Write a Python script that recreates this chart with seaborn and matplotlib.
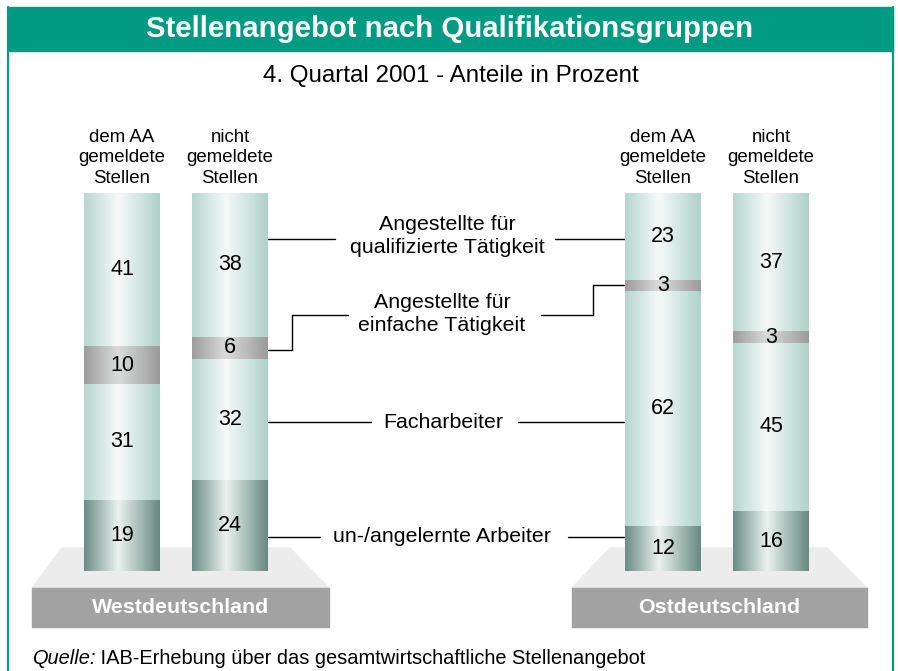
import matplotlib
matplotlib.use("Agg")
import matplotlib.pyplot as plt
import numpy as np
import pandas as pd
import seaborn as sns
from matplotlib.colors import LinearSegmentedColormap
from matplotlib.patches import Polygon, Rectangle

# data (percent shares, bottom to top of each column)
regions = ['Westdeutschland', 'Ostdeutschland']
col_headers = ['dem AA\ngemeldete\nStellen', 'nicht\ngemeldete\nStellen',
               'dem AA\ngemeldete\nStellen', 'nicht\ngemeldete\nStellen']
groups = ['un-/angelernte Arbeiter', 'Facharbeiter',
          'Angestellte für\neinfache Tätigkeit',
          'Angestellte für\nqualifizierte Tätigkeit']
unskilled = [19, 24, 12, 16]
skilled = [31, 32, 62, 45]
simple = [10, 6, 3, 3]
qualified = [41, 38, 23, 37]

sns.set_theme(style='white')
plt.rcParams['font.family'] = ['Liberation Sans', 'DejaVu Sans']
plt.rcParams['text.color'] = 'black'

W, H = 898, 671
fig = plt.figure(figsize=(W / 100, H / 100), dpi=100)

# background axes in pixel units
ax = fig.add_axes([0, 0, 1, 1])
ax.set_xlim(0, W)
ax.set_ylim(H, 0)
ax.set_axis_off()

green = '#009b82'
ax.add_patch(Rectangle((8, 7), 885, 44, color=green, zorder=1))
ax.plot([8, 8], [7, 671], color=green, lw=1.6, zorder=2)
ax.plot([893, 893], [7, 671], color=green, lw=1.6, zorder=2)
ax.text(450, 29, 'Stellenangebot nach Qualifikationsgruppen', color='white',
        fontsize=21.2, fontweight='bold', ha='center', va='center', zorder=3)
ax.text(451, 76, '4. Quartal 2001 - Anteile in Prozent', fontsize=17.4,
        ha='center', va='center')

# platforms
plat_top = [[(62, 548), (290, 548), (329, 588), (32, 588)],
            [(610, 548), (827, 548), (867, 588), (572, 588)]]
plat_box = [(32, 329), (572, 867)]
for poly, (x0, x1), name in zip(plat_top, plat_box, regions):
    ax.add_patch(Polygon(poly, closed=True, color='#ececec', zorder=1))
    ax.add_patch(Rectangle((x0, 588), x1 - x0, 39, color='#a2a2a2', zorder=1))
    ax.text((x0 + x1) / 2, 607.5, name, color='white', fontsize=15.4,
            fontweight='bold', ha='center', va='center', zorder=3)

# column headers
centers = [122, 230, 663, 771]
for cx, head in zip(centers, col_headers):
    ax.text(cx, 158, head, fontsize=13.4, ha='center', va='center',
            linespacing=1.27)

# leader lines and group labels
lc = dict(color='black', lw=1.0, zorder=3)
ax.plot([268, 335], [239, 239], **lc)
ax.plot([555, 625], [239, 239], **lc)
ax.text(447, 236, groups[3], fontsize=15.4, ha='center', va='center', linespacing=1.3)
ax.plot([268, 292, 292, 348], [350, 350, 315, 315], **lc)
ax.plot([541, 593, 593, 625], [315, 315, 285, 285], **lc)
ax.text(442, 314, groups[2], fontsize=15.4, ha='center', va='center', linespacing=1.3)
ax.plot([268, 371], [422, 422], **lc)
ax.plot([518, 625], [422, 422], **lc)
ax.text(443, 422, groups[1], fontsize=15.4, ha='center', va='center')
ax.plot([268, 320], [537, 537], **lc)
ax.plot([568, 625], [537, 537], **lc)
ax.text(442, 537, groups[0], fontsize=15.4, ha='center', va='center')

q = ax.text(32, 664, 'Quelle:', fontsize=14.4, style='italic', ha='left',
            va='baseline')
ax.annotate(' IAB-Erhebung über das gesamtwirtschaftliche Stellenangebot',
            xy=(1, 0), xycoords=q, fontsize=14.4, ha='left', va='bottom')

# bar axes: x in pixels, y in percent
ax_b = fig.add_axes([0, (H - 571) / H, 1, 378 / H])
ax_b.patch.set_alpha(0)

segs = np.array([unskilled, skilled, simple, qualified], dtype=float)
totals = segs.sum(axis=0)
shares = segs / totals * 100
cum = np.cumsum(shares, axis=0)

cmaps = [
    LinearSegmentedColormap.from_list('dark', [(0, '#6a8c84'), (0.45, '#eaf2ef'), (1, '#66897f')]),
    LinearSegmentedColormap.from_list('light', [(0, '#b6d6ce'), (0.45, '#f6faf9'), (1, '#aed1c8')]),
    LinearSegmentedColormap.from_list('grey', [(0, '#9c9c9c'), (0.45, '#dadcdb'), (1, '#9a9a9a')]),
    LinearSegmentedColormap.from_list('light2', [(0, '#b6d6ce'), (0.45, '#f6faf9'), (1, '#aed1c8')]),
]
grad = np.linspace(0, 1, 256).reshape(1, -1)

for k in range(3, -1, -1):
    df = pd.DataFrame({'pos': centers, 'top': cum[k]})
    n0 = len(ax_b.patches)
    sns.barplot(data=df, x='pos', y='top', native_scale=True, orient='x',
                width=76 / 108, color='#cfe3de', saturation=1, errorbar=None,
                linewidth=0, ax=ax_b)
    for p in ax_b.patches[n0:]:
        x0, w, h = p.get_x(), p.get_width(), p.get_height()
        im = ax_b.imshow(grad, cmap=cmaps[k], aspect='auto',
                         extent=(x0, x0 + w, 0, h), zorder=2 + (3 - k))
        im.set_clip_path(p)
        p.set_zorder(2 + (3 - k))

for k in range(4):
    for i, cx in enumerate(centers):
        ymid = cum[k, i] - shares[k, i] / 2
        ax_b.text(cx, ymid, f'{int(segs[k, i])}', fontsize=15.5, ha='center',
                  va='center', zorder=10)

ax_b.set_xlim(0, W)
ax_b.set_ylim(0, 100)
ax_b.set_axis_off()

fig.savefig('out.png', dpi=100)
